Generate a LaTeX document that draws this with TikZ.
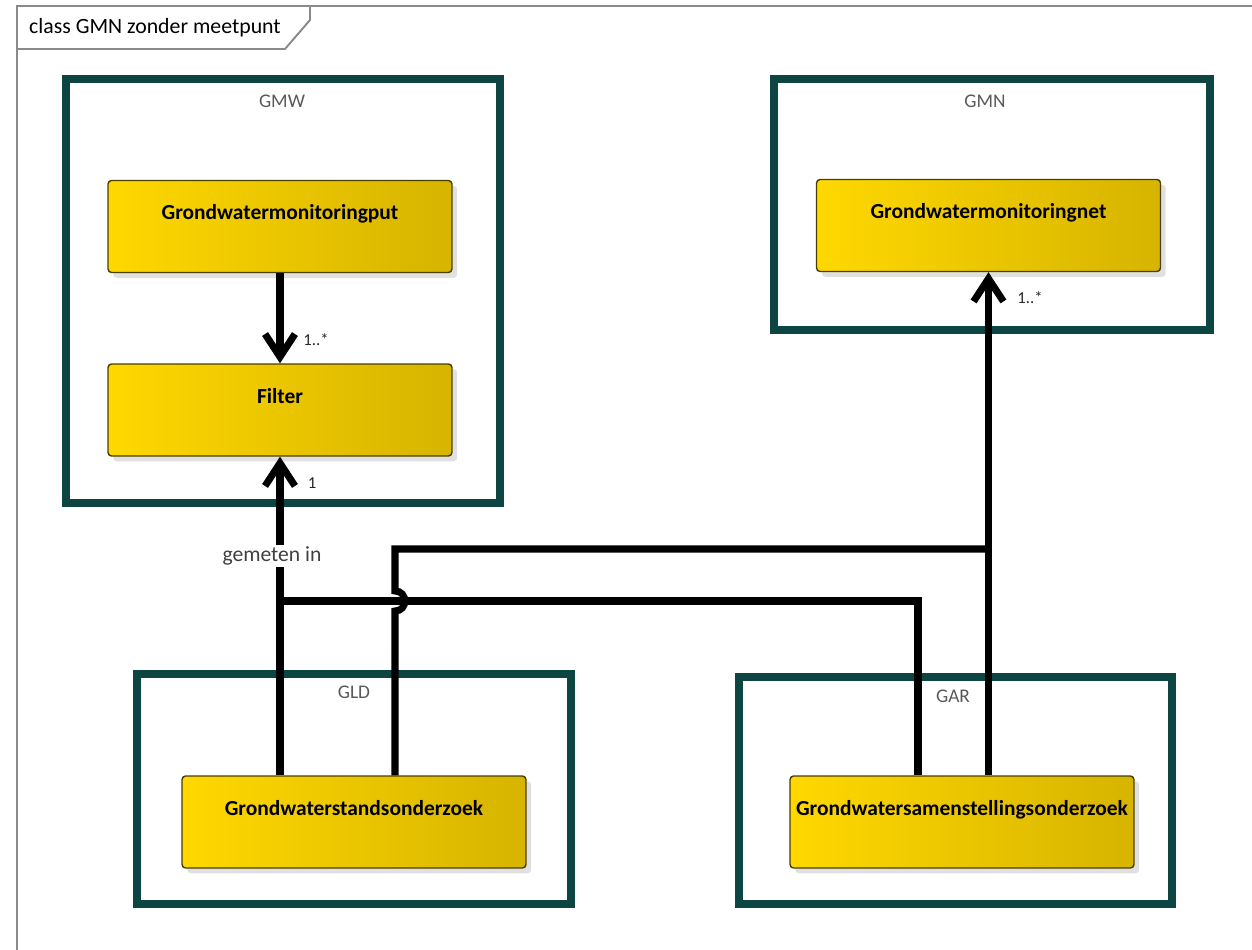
\documentclass[tikz,border=0pt]{standalone}
\usepackage{fontspec}
\setmainfont{Carlito}
\usetikzlibrary{arrows.meta,shadows,fit}

\definecolor{pkgteal}{HTML}{0C4542}
\definecolor{clsleft}{HTML}{FFD800}
\definecolor{clsright}{HTML}{D6B400}
\definecolor{clsedge}{HTML}{4A3E00}
\definecolor{framegray}{HTML}{8A8A8A}

\begin{document}
\begin{tikzpicture}[x=0.02cm,y=-0.02cm,
  frame/.style={draw=framegray, line width=1.1pt},
  pkg/.style={draw=pkgteal, line width=5pt, inner sep=0pt},
  pkgname/.style={text=black!65, font=\fontsize{11}{13}\selectfont},
  cls/.style={draw=clsedge, line width=0.8pt, rounded corners=2pt,
    left color=clsleft, right color=clsright,
    drop shadow={shadow xshift=3pt, shadow yshift=-3pt, opacity=.2, fill=black!60},
    minimum width=6.88cm, minimum height=1.84cm, inner sep=0pt,
    text height=0.3cm, text depth=0.58cm,
    font=\bfseries\fontsize{12.2}{15}\selectfont},
  link/.style={line width=4pt},
  assoc/.style={link, -{Straight Barb[length=13pt,width=17pt]}},
  mult/.style={font=\fontsize{9.5}{11}\selectfont, text=black!85}]
  \useasboundingbox (0,0) rectangle (1252,950);

  % Diagram frame with its tab
  \draw[frame] (17,950) -- (17,6) -- (1252,6);
  \draw[frame] (17,49) -- (285,49) -- (310,20) -- (310,6);
  \node[anchor=west, font=\fontsize{12.4}{14}\selectfont] (title) at (23,28) {class GMN zonder meetpunt};

  % Packages
  \node[pkg, fit={(66,79) (500,503)}] (gmw) {};
  \node[pkg, fit={(774,79) (1210,330)}] (gmn) {};
  \node[pkg, fit={(137,674) (571,904)}] (gld) {};
  \node[pkg, fit={(739,677) (1172,904)}] (gar) {};

  \node[pkgname] (gmwname) at (282,101) {GMW};
  \node[pkgname] (gmnname) at (985,101) {GMN};
  \node[pkgname] (gldname) at (354,692) {GLD};
  \node[pkgname] (garname) at (953,696) {GAR};

  % Classes
  \node[cls] (put) at (280,226.5) {Grondwatermonitoringput};
  \node[cls] (filter) at (280,410) {Filter};
  \node[cls] (net) at (988.5,225.5) {Grondwatermonitoringnet};
  \node[cls] (stand) at (354,822) {Grondwaterstandsonderzoek};
  \node[cls] (samen) at (962,822) {Grondwatersamenstellingsonderzoek};

  % Associations
  \draw[assoc] (put.south) -- (filter.north);
  \node[mult] (m1) at (316,340) {1..*};

  \coordinate (j1) at (280,601);
  \coordinate (j2) at (988.5,549);

  \draw[assoc] (stand.north -| filter.south) -- (filter.south);
  \node[fill=white, inner sep=1pt, font=\fontsize{12.3}{14}\selectfont, text=black!75]
    (gem) at (272,556) {gemeten in};
  \node[mult] (m2) at (312,483) {1};
  \draw[link] (samen.north -| 918,0) |- (j1);

  \draw[assoc] (samen.north -| net.south) -- (net.south);
  \node[mult] (m3) at (1030,298) {1..*};
  \draw[link] (stand.north -| 395,0) -- (395,611)
    .. controls (408,611) and (408,591) .. (395,591) |- (j2);
\end{tikzpicture}
\end{document}
